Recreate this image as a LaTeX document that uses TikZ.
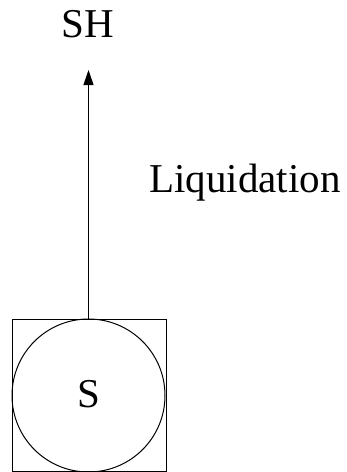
\documentclass[tikz,border=0pt]{standalone}
\usepackage{fontspec}
\setmainfont{Liberation Serif}
\usetikzlibrary{arrows.meta}
\begin{document}
\begin{tikzpicture}[x=1pt,y=1pt,
  line/.style={line width=1pt,draw=black},
  lbl/.style={font=\fontsize{41}{41}\selectfont,inner sep=0pt,anchor=base}]
\useasboundingbox (0,0) rectangle (347,-472);
\node[line,rectangle,minimum width=154pt,minimum height=152.5pt,inner sep=0pt] (box) at (89,-395.25) {};
\node[line,circle,minimum size=153pt,inner sep=0pt] (s) at (88.5,-395.5) {};
\node[lbl] (slbl) at (88.5,-407) {S};
\node[lbl] (sh) at (88,-37) {SH};
\node[lbl] (liq) at (245,-192) {Liquidation};
\coordinate (tip) at (88.5,-70);
\draw[line,-{Triangle[length=15pt,width=10pt]}] (s.north) -- (tip);
\end{tikzpicture}
\end{document}
